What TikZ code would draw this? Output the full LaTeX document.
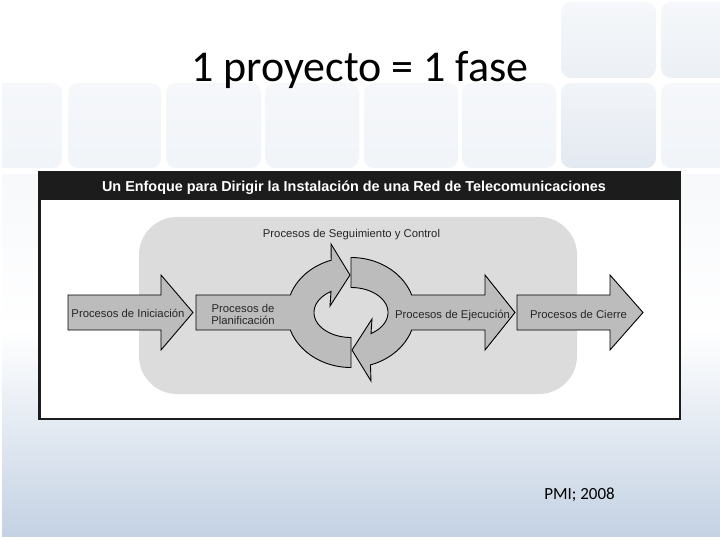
\documentclass[tikz,border=0pt]{standalone}
\usepackage{fontspec}
\setmainfont{Liberation Sans}
\newfontfamily\titlefont{Carlito}
\definecolor{bgbot}{HTML}{C3D1E3}
\definecolor{tilec}{HTML}{F1F4F8}
\definecolor{tiler}{HTML}{ECF0F5}
\definecolor{tileb}{HTML}{E3E9F1}
\definecolor{panel}{HTML}{DCDCDC}
\definecolor{arrowc}{HTML}{BCBCBC}
\definecolor{framec}{HTML}{1C1C1C}
\definecolor{lblc}{HTML}{262626}
\begin{document}
\begin{tikzpicture}[x=1pt,y=-1pt,
  tile/.style={rounded corners=10pt},
  procarrow/.style={fill=arrowc,draw=black,line width=0.9pt,line join=miter},
  lbl/.style={font=\fontsize{11.3}{12}\selectfont,text=lblc,inner sep=0pt,anchor=base}]
\useasboundingbox (0,0) rectangle (720,540);
\clip (0,0) rectangle (720,540);
% background
\fill[white] (0,0) rectangle (720,540);
\shade[top color=white,middle color=bgbot!35!white,bottom color=bgbot] (0,330) rectangle (720,540);
% tiles
\foreach \a/\b in {-10/62,68/161,166/261,265/359,364/458,462/556,661/735}{
  \shade[tile,top color=tilec!70!white,bottom color=tilec] (\a,83) rectangle (\b,168);
  \shade[tile,top color=tilec!60!white,bottom color=white] (\a,174) rectangle (\b,330);}
\shade[tile,top color=tiler!70!white,bottom color=tileb] (561,83) rectangle (656,168);
\shade[tile,top color=tileb!50!white,bottom color=white] (561,174) rectangle (656,330);
\foreach \a/\b in {561/656,661/735}{
  \shade[tile,top color=tiler!50!white,bottom color=tiler] (\a,2) rectangle (\b,78);}
\fill[white] (0,537) rectangle (720,540);
\fill[white] (0,0) rectangle (2,540);
% title
\node[font=\titlefont\fontsize{44}{50}\selectfont,anchor=base,inner sep=0pt] (title) at (360,82) {1 proyecto = 1 fase};
% frame
\fill[white] (38,171) rectangle (681,420);
\draw[framec,line width=2.5pt] (39.25,172) rectangle (679.75,419);
\fill[framec] (38,171) rectangle (681,200);
\node[text=white,font=\bfseries\fontsize{14.4}{16}\selectfont,anchor=base,inner sep=0pt] (hdr) at (354,191.5) {Un Enfoque para Dirigir la Instalación de una Red de Telecomunicaciones};
% panel
\fill[panel,rounded corners=38pt] (139,217) rectangle (577,394);
\node[lbl] (seg) at (351.5,237) {Procesos de Seguimiento y Control};
% Iniciacion arrow
\draw[procarrow] (68,295) -- (161,295) -- (161,275) -- (193,312.5) -- (161,350) -- (161,330) -- (68,330) -- cycle;
% Planificacion + left curved arrow
\draw[procarrow] (196,295) -- plot[domain=198.5:252,samples=30] ({351+64*cos(\x)},{312.5+55*sin(\x)})
  -- (331,244) -- (350,275) -- (330,306)
  -- plot[domain=237.3:90,samples=40] ({351+37*cos(\x)},{312.5+25*sin(\x)})
  -- plot[domain=90:161.5,samples=30] ({351+64*cos(\x)},{312.5+55*sin(\x)})
  -- (196,330) -- cycle;
% right curved arrow + Ejecucion
\draw[procarrow] plot[domain=-90:57.3,samples=40] ({351+37*cos(\x)},{312.5+25*sin(\x)})
  -- (372,319) -- (352,350) -- (371,381)
  -- plot[domain=72.3:18.5,samples=30] ({351+64*cos(\x)},{312.5+55*sin(\x)})
  -- (485,330) -- (485,350) -- (515,312.5) -- (485,275) -- (485,295)
  -- plot[domain=-18.5:-90,samples=30] ({351+64*cos(\x)},{312.5+55*sin(\x)}) -- cycle;
% Cierre arrow
\draw[procarrow] (517,295) -- (610,295) -- (610,275) -- (643,312.5) -- (610,350) -- (610,330) -- (517,330) -- cycle;
% labels
\node[lbl] (ini) at (128,317.5) {Procesos de Iniciación};
\node[lbl] (plan1) at (243,312.5) {Procesos de};
\node[lbl] (plan2) at (243,324) {Planificación};
\node[lbl] (eje) at (452.5,318) {Procesos de Ejecución};
\node[lbl] (cie) at (578.5,318) {Procesos de Cierre};
% source
\node[font=\titlefont\fontsize{17}{20}\selectfont,anchor=base,inner sep=0pt] (src) at (579.5,499) {PMI; 2008};
\end{tikzpicture}
\end{document}
